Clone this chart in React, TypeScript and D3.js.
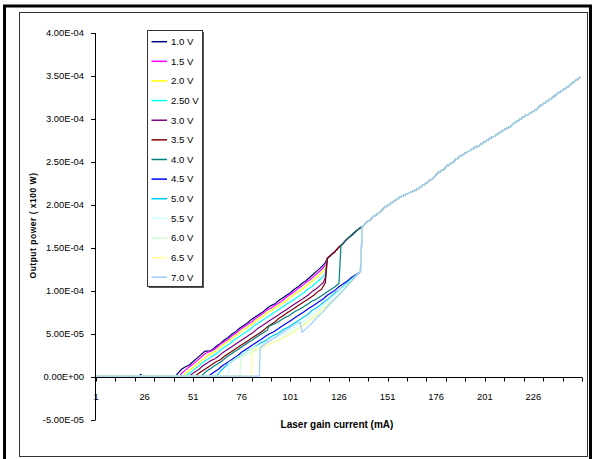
import React from 'react';
import * as d3 from 'd3';

type Pt = [number, number];
const UNIT = 1e-5; // series values below are in units of 1e-5 W

const seriesNames = ['1.0 V', '1.5 V', '2.0 V', '2.50 V', '3.0 V', '3.5 V', '4.0 V', '4.5 V', '5.0 V', '5.5 V', '6.0 V', '6.5 V', '7.0 V'];
const seriesColors = ['#000080', '#FF00FF', '#FFFF00', '#00FFFF', '#800080', '#800000', '#008080', '#0000FF', '#00CCFF', '#CCFFFF', '#CCFFCC', '#FFFF99', '#99CCFF'];

const yTickValues = [-5e-5, 0, 5e-5, 1e-4, 1.5e-4, 2e-4, 2.5e-4, 3e-4, 3.5e-4, 4e-4];
const yTickLabels = ['-5.00E-05', '0.00E+00', '5.00E-05', '1.00E-04', '1.50E-04', '2.00E-04', '2.50E-04', '3.00E-04', '3.50E-04', '4.00E-04'];
const xTickLabels = [1, 26, 51, 76, 101, 126, 151, 176, 201, 226];
const xTickMarks = [1, 11, 21, 31, 41, 51, 61, 71, 81, 91, 101, 111, 121, 131, 141, 151, 161, 171, 181, 191, 201, 211, 221, 231, 241, 251];

// shared curve above the jump
const upperCurve: Pt[] = [[120, 13.8], [122, 14.2], [124, 14.6], [126, 15.1], [128, 15.5], [130, 16.0], [132, 16.4], [134, 16.8], [136, 17.2], [138, 17.5], [140, 17.9], [142, 18.3], [144, 18.7], [146, 19.0], [148, 19.4], [150, 19.8], [152, 20.1], [154, 20.4], [156, 20.7], [158, 21.0], [160, 21.2], [162, 21.4], [164, 21.6], [166, 21.8], [168, 22.1], [170, 22.4], [172, 22.7], [174, 23.1], [176, 23.5], [178, 23.9], [180, 24.2], [182, 24.6], [184, 24.9], [186, 25.3], [188, 25.6], [190, 25.9], [192, 26.2], [194, 26.4], [196, 26.7], [198, 26.9], [200, 27.2], [202, 27.5], [204, 27.8], [206, 28.0], [208, 28.3], [210, 28.6], [212, 28.9], [214, 29.1], [216, 29.5], [218, 29.8], [220, 30.1], [222, 30.4], [224, 30.6], [226, 30.9], [228, 31.2], [230, 31.6], [232, 31.9], [234, 32.2], [236, 32.5], [238, 32.9], [240, 33.2], [242, 33.5], [244, 33.8], [246, 34.2], [248, 34.5], [250, 34.9]];

const s10: Pt[] = [[1, 0.1], [23, 0.1], [24, 0.3], [25, 0.1], [42, 0.1], [43, 0.4], [45, 0.9], [47, 1.2], [49, 1.4], [51, 1.8], [53, 2.2], [55, 2.6], [57, 3.0], [59, 3.0], [61, 3.2], [63, 3.6], [65, 3.9], [67, 4.3], [69, 4.6], [71, 5.0], [73, 5.3], [75, 5.7], [77, 6.0], [79, 6.3], [81, 6.7], [83, 7.0], [85, 7.3], [87, 7.6], [89, 8.0], [91, 8.3], [93, 8.5], [95, 8.9], [97, 9.2], [99, 9.5], [101, 9.8], [103, 10.2], [105, 10.5], [107, 10.9], [109, 11.2], [111, 11.6], [113, 12.0], [115, 12.4], [117, 12.8], [119, 13.3]];
const s15: Pt[] = [[1, 0.1], [44, 0.1], [45, 0.4], [47, 0.8], [49, 1.2], [51, 1.5], [53, 1.9], [55, 2.3], [57, 2.7], [59, 2.9], [61, 3.1], [63, 3.4], [65, 3.8], [67, 4.1], [69, 4.4], [71, 4.8], [73, 5.1], [75, 5.5], [77, 5.8], [79, 6.1], [81, 6.4], [83, 6.8], [85, 7.1], [87, 7.4], [89, 7.8], [91, 8.0], [93, 8.3], [95, 8.6], [97, 8.9], [99, 9.3], [101, 9.6], [103, 9.9], [105, 10.3], [107, 10.6], [109, 11.0], [111, 11.3], [113, 11.7], [115, 12.1], [117, 12.5], [119, 13.0]];
const s20: Pt[] = [[1, 0.1], [46, 0.1], [47, 0.4], [49, 0.8], [51, 1.1], [53, 1.5], [55, 1.9], [57, 2.2], [59, 2.6], [61, 2.8], [63, 3.1], [65, 3.5], [67, 3.8], [69, 4.2], [71, 4.5], [73, 4.8], [75, 5.2], [77, 5.5], [79, 5.8], [81, 6.1], [83, 6.5], [85, 6.8], [87, 7.1], [89, 7.5], [91, 7.7], [93, 8.0], [95, 8.3], [97, 8.6], [99, 8.9], [101, 9.3], [103, 9.6], [105, 9.9], [107, 10.2], [109, 10.6], [111, 10.9], [113, 11.3], [115, 11.7], [117, 12.1], [119, 12.6]];
const s25: Pt[] = [[1, 0.1], [47, 0.1], [48, 0.3], [50, 0.6], [52, 1.0], [54, 1.3], [56, 1.7], [58, 2.0], [60, 2.3], [62, 2.6], [64, 2.9], [66, 3.3], [68, 3.6], [70, 3.9], [72, 4.3], [74, 4.6], [76, 4.9], [78, 5.2], [80, 5.5], [82, 5.9], [84, 6.2], [86, 6.5], [88, 6.8], [90, 7.1], [92, 7.4], [94, 7.7], [96, 8.0], [98, 8.3], [100, 8.6], [102, 8.9], [104, 9.2], [106, 9.5], [108, 9.8], [110, 10.2], [112, 10.5], [114, 10.9], [116, 11.3], [118, 11.7], [119, 12.1]];
const s30: Pt[] = [[1, 0.1], [49, 0.1], [50, 0.3], [52, 0.6], [54, 0.9], [56, 1.3], [58, 1.6], [60, 1.9], [62, 2.1], [64, 2.4], [66, 2.8], [68, 3.1], [70, 3.4], [72, 3.7], [74, 4.0], [76, 4.3], [78, 4.6], [80, 4.9], [82, 5.2], [84, 5.6], [86, 5.9], [88, 6.2], [90, 6.5], [92, 6.8], [94, 7.1], [96, 7.4], [98, 7.7], [100, 8.0], [102, 8.3], [104, 8.6], [106, 8.9], [108, 9.2], [110, 9.5], [112, 9.9], [114, 10.2], [116, 10.6], [118, 11.0], [119, 11.6]];
const s35: Pt[] = [[1, 0.1], [52, 0.1], [53, 0.3], [55, 0.6], [57, 0.9], [59, 1.2], [61, 1.5], [63, 1.8], [65, 2.0], [67, 2.4], [69, 2.7], [71, 3.0], [73, 3.3], [75, 3.6], [77, 3.9], [79, 4.2], [81, 4.5], [83, 4.8], [85, 5.1], [87, 5.4], [89, 5.8], [91, 6.1], [93, 6.4], [95, 6.8], [97, 7.1], [99, 7.4], [101, 7.7], [103, 8.0], [105, 8.3], [107, 8.6], [109, 8.9], [111, 9.2], [113, 9.5], [115, 9.9], [117, 10.2], [119, 11.0]];
const s40: Pt[] = [[1, 0.1], [55, 0.1], [56, 0.3], [58, 0.7], [60, 1.0], [62, 1.3], [64, 1.6], [66, 1.9], [68, 2.3], [70, 2.6], [72, 2.9], [74, 3.2], [76, 3.5], [78, 3.8], [80, 4.1], [82, 4.4], [84, 4.7], [86, 5.0], [88, 5.3], [89, 5.4], [90, 5.9], [92, 6.1], [94, 6.3], [96, 6.6], [98, 6.9], [100, 7.1], [102, 7.4], [104, 7.7], [106, 7.9], [108, 8.2], [110, 8.5], [112, 8.8], [114, 9.0], [116, 9.3], [118, 9.6], [120, 9.9], [122, 10.2], [124, 10.5], [126, 10.9], [127, 15.3]];
const s45: Pt[] = [[1, 0.1], [59, 0.1], [60, 0.3], [62, 0.6], [64, 0.9], [66, 1.3], [68, 1.6], [70, 1.9], [72, 2.2], [74, 2.5], [76, 2.9], [78, 3.2], [80, 3.5], [82, 3.8], [84, 4.1], [86, 4.4], [88, 4.7], [90, 5.0], [92, 5.2], [94, 5.5], [96, 5.8], [98, 6.1], [100, 6.4], [102, 6.7], [104, 7.0], [106, 7.3], [108, 7.6], [110, 7.9], [112, 8.2], [114, 8.5], [116, 8.8], [118, 9.1], [120, 9.5], [122, 9.8], [124, 10.1], [126, 10.5], [128, 10.8], [130, 11.1], [132, 11.5], [134, 11.8], [137, 12.2], [138, 17.5]];
const s50: Pt[] = [[1, 0.1], [63, 0.1], [64, 0.4], [66, 0.9], [68, 1.3], [70, 1.7], [72, 2.0], [74, 2.3], [76, 2.6], [78, 2.9], [80, 3.2], [82, 3.4], [84, 3.7], [86, 4.0], [88, 4.2], [90, 4.5], [92, 4.8], [94, 5.0], [96, 5.3], [98, 5.6], [100, 5.8], [102, 6.1], [104, 6.4], [106, 6.7], [108, 7.0], [110, 7.3], [112, 7.7], [114, 8.0], [116, 8.3], [118, 8.7], [120, 9.0], [122, 9.4], [124, 9.8], [126, 10.1], [128, 10.5], [130, 10.9], [132, 11.3], [134, 11.7], [137, 12.2], [138, 17.5]];
const s55: Pt[] = [[1, 0.1], [69, 0.1], [69.5, 1.7], [71, 1.9], [73, 2.2], [75, 2.5], [77, 2.8], [79, 3.0], [81, 3.3], [83, 3.5], [85, 3.7], [87, 3.9], [89, 4.1], [91, 4.3], [93, 4.5], [95, 4.7], [97, 5.0], [99, 5.2], [101, 5.5], [103, 5.8], [105, 6.1], [107, 6.4], [109, 6.7], [111, 7.1], [113, 7.4], [115, 7.8], [117, 8.2], [119, 8.6], [121, 9.0], [123, 9.4], [125, 9.8], [127, 10.2], [129, 10.6], [131, 11.0], [133, 11.4], [135, 11.8], [137, 12.2], [138, 17.5]];
const s60: Pt[] = [[1, 0.1], [75, 0.1], [75.5, 2.3], [77, 2.5], [79, 2.7], [81, 2.9], [83, 3.1], [85, 3.3], [87, 3.5], [89, 3.7], [91, 3.9], [93, 4.1], [95, 4.3], [97, 4.6], [99, 4.8], [101, 5.1], [103, 5.4], [105, 5.7], [107, 6.0], [109, 6.3], [111, 6.7], [113, 7.0], [115, 7.4], [117, 7.8], [119, 8.2], [121, 8.6], [123, 9.0], [125, 9.4], [127, 9.8], [129, 10.3], [131, 10.7], [133, 11.2], [135, 11.7], [137, 12.2], [138, 17.5]];
const s65: Pt[] = [[1, 0.1], [81, 0.1], [81.5, 3.1], [83, 3.2], [85, 3.4], [87, 3.5], [89, 3.7], [91, 3.9], [93, 4.1], [95, 4.3], [97, 4.5], [99, 4.7], [101, 5.0], [103, 5.3], [105, 5.6], [107, 5.9], [109, 6.2], [111, 6.5], [113, 6.9], [115, 7.3], [117, 7.7], [119, 8.1], [121, 8.5], [123, 8.9], [125, 9.3], [127, 9.8], [129, 10.3], [131, 10.8], [133, 11.3], [135, 11.8], [137, 12.2], [138, 17.5]];
const s70: Pt[] = [[1, 0.1], [85, 0.1], [85.5, 3.4], [87, 3.7], [89, 4.0], [91, 4.3], [93, 4.6], [95, 4.9], [97, 5.2], [99, 5.5], [101, 5.8], [103, 6.1], [105, 6.3], [106, 6.4], [107, 5.2], [109, 5.6], [111, 6.0], [113, 6.5], [115, 7.0], [117, 7.4], [119, 7.9], [121, 8.4], [123, 8.9], [125, 9.3], [127, 9.8], [129, 10.3], [131, 10.8], [133, 11.3], [135, 11.8], [137, 12.2], [138, 17.5]];

const lowerParts: Pt[][] = [s10, s15, s20, s25, s30, s35, s40, s45, s50, s55, s60, s65, s70];

const W = 592, H = 459;

export default function App() {
  const x = d3.scaleLinear().domain([1, 251]).range([96, 582]);
  const y = d3.scaleLinear().domain([-5e-5, 4e-4]).range([420, 33]);
  const line = d3.line<Pt>().x(d => x(d[0])).y(d => y(d[1] * UNIT));

  const series = lowerParts.map(part => {
    const last = part[part.length - 1][0];
    return part.concat(upperCurve.filter(p => p[0] > last));
  });

  const font = 'Arial, "Liberation Sans", Helvetica, sans-serif';
  const legX = 147.5, legY = 30.5, legW = 55, legH = 256, legStep = 19.63;

  return (
    <svg width={W} height={H} style={{ position: 'absolute', left: 0, top: 0, background: '#fff' }} fontFamily={font}>
      <rect x={0} y={0} width={W} height={H} fill="#fff" />
      <rect x={4.5} y={6} width={586} height={470} fill="none" stroke="#000" strokeWidth={3} />
      <rect x={19.5} y={12.5} width={568} height={444} fill="none" stroke="#333" strokeWidth={1} />

      {/* y axis */}
      <line x1={95.5} x2={95.5} y1={33} y2={420} stroke="#000" strokeWidth={1} />
      {yTickValues.map((v, i) => (
        <g key={i}>
          <line x1={91} x2={95.5} y1={Math.round(y(v)) + 0.5} y2={Math.round(y(v)) + 0.5} stroke="#000" />
          <text x={84} y={y(v)} dy="0.35em" textAnchor="end" fontSize={9.4}>{yTickLabels[i]}</text>
        </g>
      ))}

      {/* x axis */}
      <line x1={95.5} x2={582} y1={377.5} y2={377.5} stroke="#000" strokeWidth={1} />
      {xTickMarks.map((v, i) => (
        <line key={i} x1={Math.round(x(v)) + 0.5} x2={Math.round(x(v)) + 0.5} y1={377.5} y2={381.5} stroke="#000" />
      ))}
      {xTickLabels.map((v, i) => (
        <text key={i} x={x(v)} y={400} textAnchor="middle" fontSize={9.4}>{v}</text>
      ))}

      {/* series */}
      {series.map((s, i) => (
        <path key={i} d={line(s) || ''} fill="none" stroke={seriesColors[i]} strokeWidth={1.2} strokeLinejoin="round" />
      ))}

      {/* axis titles */}
      <text x={337} y={428} textAnchor="middle" fontSize={10} fontWeight="bold">Laser gain current (mA)</text>
      <text transform="translate(36,225.5) rotate(-90)" textAnchor="middle" fontSize={8.5} fontWeight="bold" letterSpacing={0.5}>Output power ( x100 W)</text>

      {/* legend */}
      <rect x={legX + 1.5} y={legY + 1.5} width={legW} height={legH} fill="#555" />
      <rect x={legX} y={legY} width={legW} height={legH} fill="#fff" stroke="#333" strokeWidth={1} />
      {seriesNames.map((n, i) => {
        const cy = 41.7 + i * legStep;
        return (
          <g key={i}>
            <line x1={151.5} x2={167} y1={cy} y2={cy} stroke={seriesColors[i]} strokeWidth={1.5} />
            <text x={171} y={cy} dy="0.35em" fontSize={9.6}>{n}</text>
          </g>
        );
      })}
    </svg>
  );
}
